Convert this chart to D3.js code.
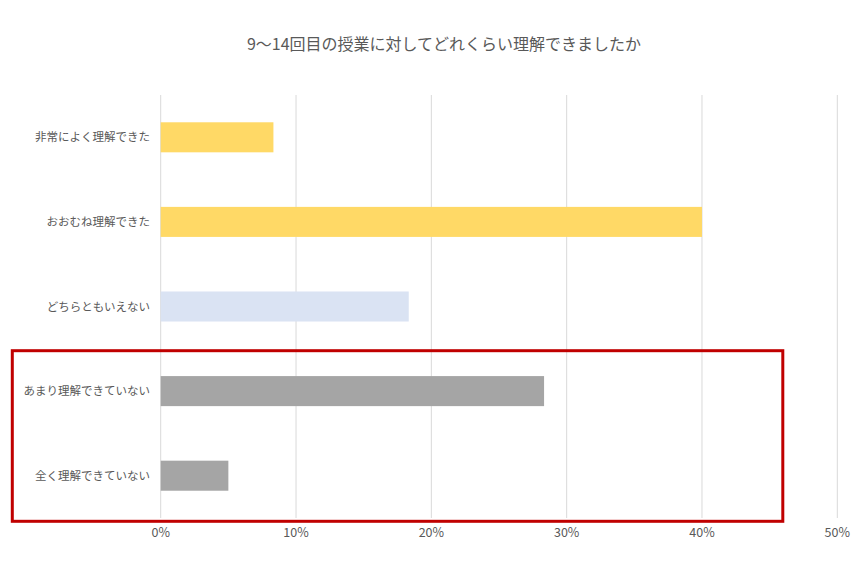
<!DOCTYPE html>
<html>
<head>
<meta charset="utf-8">
<script src="https://cdn.jsdelivr.net/npm/d3@7"></script>
<style>
  html, body { margin: 0; padding: 0; background: #fff; }
  svg { display: block; font-family: "Noto Sans CJK JP", "Noto Sans", sans-serif; }
</style>
</head>
<body>
<svg id="chart" width="863" height="573"></svg>
<script>
// answers to the survey question, top to bottom
const categories = [
  "非常によく理解できた",
  "おおむね理解できた",
  "どちらともいえない",
  "あまり理解できていない",
  "全く理解できていない",
];
const shares = [8.33, 40.0, 18.33, 28.33, 5.0]; // percent of respondents
const barColors = ["#FFD966", "#FFD966", "#DAE3F3", "#A5A5A5", "#A5A5A5"];
const xTicks = [0, 10, 20, 30, 40, 50];
const title = "9〜14回目の授業に対してどれくらい理解できましたか";

const svg = d3.select("#chart");
const textColor = "#595959";

// plot area (window.top is taken, so use a plain object)
const plot = { left: 160.7, right: 837.3, top: 95, bottom: 518 };

const x = d3.scaleLinear().domain([0, 50]).range([plot.left, plot.right]);
const y = d3.scaleBand()
  .domain(categories)
  .range([plot.top, plot.bottom])
  .paddingInner(0.645)
  .paddingOuter(0.3225);

// vertical grid lines
svg.append("g")
  .selectAll("line")
  .data(xTicks)
  .join("line")
  .attr("x1", d => x(d))
  .attr("x2", d => x(d))
  .attr("y1", plot.top)
  .attr("y2", plot.bottom)
  .attr("stroke", "#D9D9D9")
  .attr("stroke-width", 1);

// bars
svg.append("g")
  .selectAll("rect")
  .data(categories)
  .join("rect")
  .attr("x", x(0))
  .attr("y", d => y(d))
  .attr("width", (d, i) => x(shares[i]) - x(0))
  .attr("height", y.bandwidth())
  .attr("fill", (d, i) => barColors[i]);

// category labels
svg.append("g")
  .selectAll("text")
  .data(categories)
  .join("text")
  .attr("x", 150)
  .attr("y", d => y(d) + y.bandwidth() / 2)
  .attr("dy", "0.35em")
  .attr("text-anchor", "end")
  .attr("font-size", 11.5)
  .attr("fill", textColor)
  .text(d => d);

// percent tick labels under the plot
svg.append("g")
  .selectAll("text")
  .data(xTicks)
  .join("text")
  .attr("x", d => x(d))
  .attr("y", 533)
  .attr("dy", "0.35em")
  .attr("text-anchor", "middle")
  .attr("font-size", 12.5)
  .attr("fill", textColor)
  .text(d => d + "%");

// title
svg.append("text")
  .attr("x", 444)
  .attr("y", 44)
  .attr("dy", "0.35em")
  .attr("text-anchor", "middle")
  .attr("font-size", 16)
  .attr("fill", textColor)
  .text(title);

// red highlight box round the two negative answers
svg.append("rect")
  .attr("x", 12.3)
  .attr("y", 350.7)
  .attr("width", 782.8 - 12.3)
  .attr("height", 521.3 - 350.7)
  .attr("fill", "none")
  .attr("stroke", "#C00000")
  .attr("stroke-width", 3);
</script>
</body>
</html>
